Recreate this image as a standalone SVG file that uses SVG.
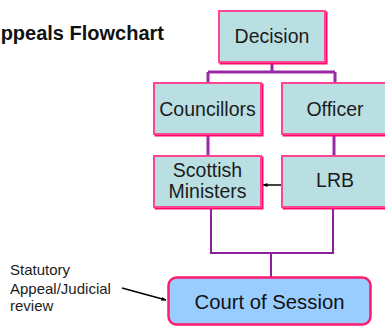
<svg xmlns="http://www.w3.org/2000/svg" width="385" height="327" viewBox="0 0 385 327">
<defs>
<marker id="ah" viewBox="0 0 10 10" refX="9" refY="5" markerWidth="5" markerHeight="5" orient="auto-start-reverse" markerUnits="userSpaceOnUse">
<path d="M0,1 L10,5 L0,9 z" fill="#000"/>
</marker>
</defs>
<style>
.box{fill:#b9dfe3;stroke:#ff4592;stroke-width:2}
.sh{fill:none;stroke:#ff0a6a;stroke-width:2}
.t{font-family:"Liberation Sans",Arial,sans-serif;font-size:19.5px;fill:#1c1c1c;text-anchor:middle}
.lbl{font-family:"Liberation Sans",Arial,sans-serif;font-size:15px;fill:#1c1c1c}
.c{fill:none;stroke:#9a2aa8;stroke-width:3}
.c2{fill:none;stroke:#8e1f9e;stroke-width:2}
.ar{fill:none;stroke:#000;stroke-width:1.5}
</style>
<rect width="385" height="327" fill="#fff"/>
<text x="164" y="40" font-family="'Liberation Sans',Arial,sans-serif" font-size="20" font-weight="bold" fill="#111" text-anchor="end">ppeals Flowchart</text>
<g id="connectors">
<path class="c" d="M272,62 V72 M208,72 H335 M208,72 V84 M335,72 V84"/>
<path class="c" d="M208,134 V156 M334,135 V156"/>
<path class="c2" d="M211,208 V253 H333 V209 M271,253 V277"/>
<line class="ar" x1="282" y1="185" x2="263" y2="185" marker-end="url(#ah)"/>
<line class="ar" x1="122" y1="288" x2="166" y2="300" marker-end="url(#ah)"/>
</g>
<g id="decision">
<rect class="sh" x="220.5" y="12.5" width="106" height="51"/>
<rect class="box" x="219" y="11" width="106" height="51"/>
<text class="t" x="272" y="43">Decision</text>
</g>
<g id="councillors">
<rect class="sh" x="155.5" y="84.5" width="107" height="51"/>
<rect class="box" x="154" y="83" width="107" height="51"/>
<text class="t" x="207.5" y="115.5">Councillors</text>
</g>
<g id="officer">
<rect class="sh" x="283.5" y="84.5" width="107" height="51"/>
<rect class="box" x="282" y="83" width="107" height="51"/>
<text class="t" x="335" y="115.5">Officer</text>
</g>
<g id="scottish-ministers">
<rect class="sh" x="155.5" y="157.5" width="107" height="51"/>
<rect class="box" x="154" y="156" width="107" height="51"/>
<text class="t" x="207.5" y="176.5">Scottish</text>
<text class="t" x="207.5" y="198">Ministers</text>
</g>
<g id="lrb">
<rect class="sh" x="283.5" y="157.5" width="107" height="51"/>
<rect class="box" x="282" y="156" width="107" height="51"/>
<text class="t" x="335" y="187">LRB</text>
</g>
<g id="court-of-session">
<rect x="168.5" y="277.5" width="202" height="47" rx="8" fill="#99ccff" stroke="#ff1a6e" stroke-width="2.5"/>
<text x="269.5" y="309" font-family="'Liberation Sans',Arial,sans-serif" font-size="20.3" fill="#111" text-anchor="middle">Court of Session</text>
</g>
<g id="label">
<text class="lbl" x="10" y="275">Statutory</text>
<text class="lbl" x="10" y="293.5">Appeal/Judicial</text>
<text class="lbl" x="10" y="311">review</text>
</g>
</svg>
